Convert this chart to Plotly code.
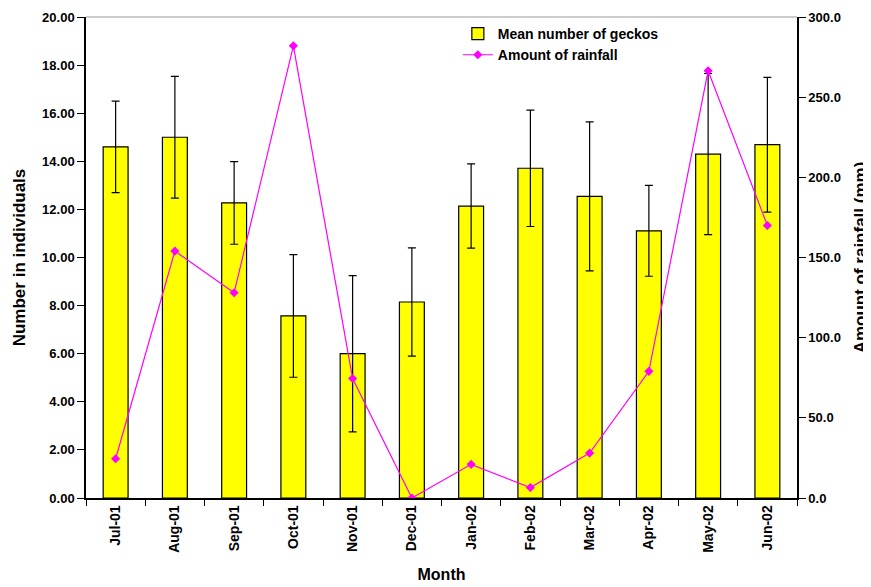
import plotly.graph_objects as go

months = ["Jul-01", "Aug-01", "Sep-01", "Oct-01", "Nov-01", "Dec-01",
          "Jan-02", "Feb-02", "Mar-02", "Apr-02", "May-02", "Jun-02"]
geckos_mean = [14.6, 15.0, 12.27, 7.57, 6.0, 8.15, 12.14, 13.71, 12.54, 11.11, 14.3, 14.69]
geckos_err = [1.9, 2.53, 1.72, 2.55, 3.25, 2.25, 1.75, 2.42, 3.1, 1.89, 3.35, 2.8]
rainfall = [24.5, 154.0, 128.0, 282.0, 74.5, 0.0, 21.0, 6.5, 28.0, 79.0, 266.5, 170.0]

FONT = "Liberation Sans, Arial, sans-serif"

fig = go.Figure()
fig.add_trace(go.Bar(
    x=months, y=geckos_mean, name="Mean number of geckos",
    marker=dict(color="#FFFF00", line=dict(color="black", width=1.2)),
    width=0.42,
    error_y=dict(type="data", array=geckos_err, visible=True, color="black",
                 thickness=1.2, width=4),
    yaxis="y",
))
fig.add_trace(go.Scatter(
    x=months, y=rainfall, name="Amount of rainfall", mode="lines+markers",
    line=dict(color="#FF00FF", width=1.2),
    marker=dict(symbol="diamond", size=7, color="#FF00FF"),
    yaxis="y2",
))

fig.update_layout(
    width=863, height=579,
    margin=dict(l=78, r=74, t=9, b=89, autoexpand=False),
    paper_bgcolor="white", plot_bgcolor="white",
    font=dict(family=FONT, size=12, color="black"),
    showlegend=True,
    legend=dict(x=0.523, y=0.998, xanchor="left", yanchor="top",
                bgcolor="rgba(0,0,0,0)", font=dict(family=FONT, size=14, color="black", weight="bold"),
                tracegroupgap=0, itemwidth=30),
    xaxis=dict(
        type="category", range=[-0.5, len(months) - 0.5],
        showline=True, linecolor="black", linewidth=1.5,
        ticks="outside", tickson="boundaries", ticklen=6, tickcolor="black",
        tickangle=-90, showgrid=False, automargin=False,
        tickfont=dict(family=FONT, size=14, color="black", weight="bold"),
        title=dict(text="Month", font=dict(family=FONT, size=16, color="black", weight="bold"), standoff=17),
    ),
    yaxis=dict(
        range=[0, 20], dtick=2, tickformat=".2f", showline=True, linecolor="black", linewidth=1.5,
        ticks="outside", ticklen=7, tickcolor="black", showgrid=False, zeroline=False, automargin=False,
        tickfont=dict(family=FONT, size=13, color="black", weight="bold"),
        title=dict(text="Number in individuals", font=dict(family=FONT, size=17, color="black", weight="bold"), standoff=12),
    ),
    yaxis2=dict(
        range=[0, 300], dtick=50, tickformat=".1f", overlaying="y", side="right",
        showline=True, linecolor="black", linewidth=1.5, automargin=False,
        ticks="outside", ticklen=7, tickcolor="black", showgrid=False, zeroline=False,
        tickfont=dict(family=FONT, size=13, color="black", weight="bold"),
        title=dict(text="Amount of rainfall (mm)", font=dict(family=FONT, size=17, color="black", weight="bold"), standoff=14),
    ),
    shapes=[dict(type="line", xref="paper", yref="paper", x0=0, x1=1, y0=1, y1=1,
                 line=dict(color="#999999", width=1.2))],
)

fig.write_html("out.html")
